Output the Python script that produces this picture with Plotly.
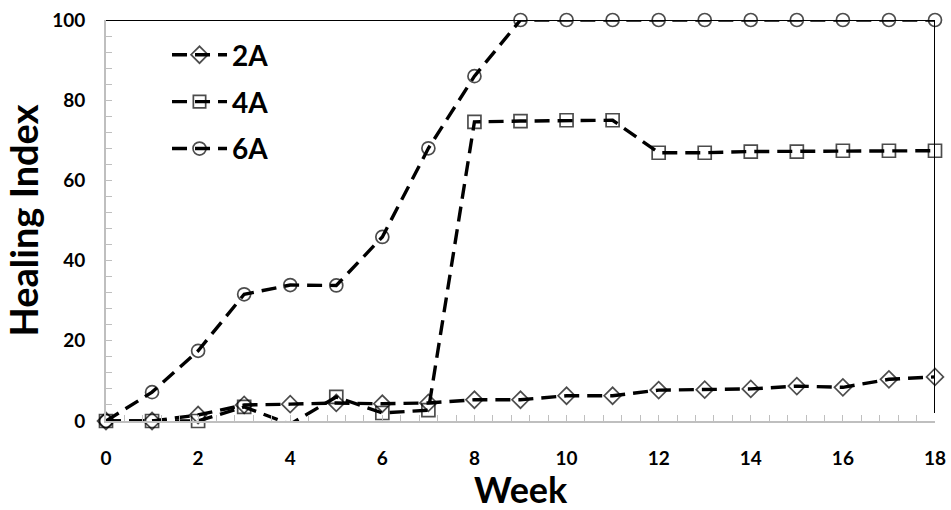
import plotly.graph_objects as go

weeks = list(range(0, 19))
s2A = [0, 0, 1.5, 4, 4.2, 4.5, 4.3, 4.5, 5.3, 5.3, 6.3, 6.3, 7.7, 7.8, 8.0, 8.7, 8.4, 10.4, 11]
s4A = [0, 0, 0, 3.5, -0.8, 6, 2, 2.7, 74.6, 74.8, 75, 75, 66.9, 66.9, 67.2, 67.2, 67.4, 67.4, 67.4]
s6A = [0, 7.2, 17.5, 31.6, 33.9, 33.8, 45.9, 68, 86, 100, 100, 100, 100, 100, 100, 100, 100, 100, 100]

series = [("2A", s2A, "diamond-open"), ("4A", s4A, "square-open"), ("6A", s6A, "circle-open")]

FONT = "Lato"
fig = go.Figure()
for name, vals, sym in series:
    sizes = [0 if v < 0 else 13 for v in vals]
    fig.add_trace(go.Scatter(
        x=weeks, y=vals, name=name, mode="lines+markers", legendgroup=name,
        line=dict(color="black", width=3.4, dash="15px,8px"),
        marker=dict(symbol=sym, size=sizes, color="black", line=dict(width=1.7, color="black")),
        cliponaxis=False,
    ))

# black frame lines at top and right
fig.add_shape(type="line", x0=0, x1=18, y0=100, y1=100, line=dict(color="black", width=2), layer="below")
fig.add_shape(type="line", x0=18, x1=18, y0=100, y1=2, line=dict(color="black", width=2), layer="below")

axis_common = dict(
    showgrid=False, zeroline=False, showline=True, linecolor="#BFBFBF", linewidth=2,
    ticks="inside", tickcolor="#BFBFBF", ticklen=6, tickwidth=1, automargin=False,
    tickfont=dict(family=FONT, size=19, color="black", weight="bold"),
)
fig.update_xaxes(range=[0, 18], dtick=2, tick0=0, ticklabelstandoff=19,
                 minor=dict(dtick=0.4, ticks="inside", ticklen=6, tickcolor="#BFBFBF"),
                 **axis_common)
fig.update_yaxes(range=[0, 100], dtick=20, tick0=0, ticklabelstandoff=15,
                 minor=dict(dtick=4, ticks="inside", ticklen=6, tickcolor="#BFBFBF"),
                 title=dict(text="<b>Healing Index</b>", font=dict(family=FONT, size=38, color="black"), standoff=10),
                 **axis_common)

# x-axis title as annotation
fig.add_annotation(text="<b>Week</b>", xref="paper", yref="paper", x=0.5, y=-0.17,
                   xanchor="center", yanchor="middle", showarrow=False,
                   font=dict(family=FONT, size=36, color="black"))

fig.update_layout(
    width=951, height=510,
    margin=dict(l=106, r=16, t=20, b=89),
    plot_bgcolor="white", paper_bgcolor="white",
    showlegend=True,
    legend=dict(x=0.0736, y=0.975, xanchor="left", yanchor="top", itemwidth=55,
                font=dict(family=FONT, size=28, color="black", weight="bold"),
                bgcolor="rgba(0,0,0,0)", tracegroupgap=7.5, traceorder="grouped"),
)
fig.write_html("out.html")
